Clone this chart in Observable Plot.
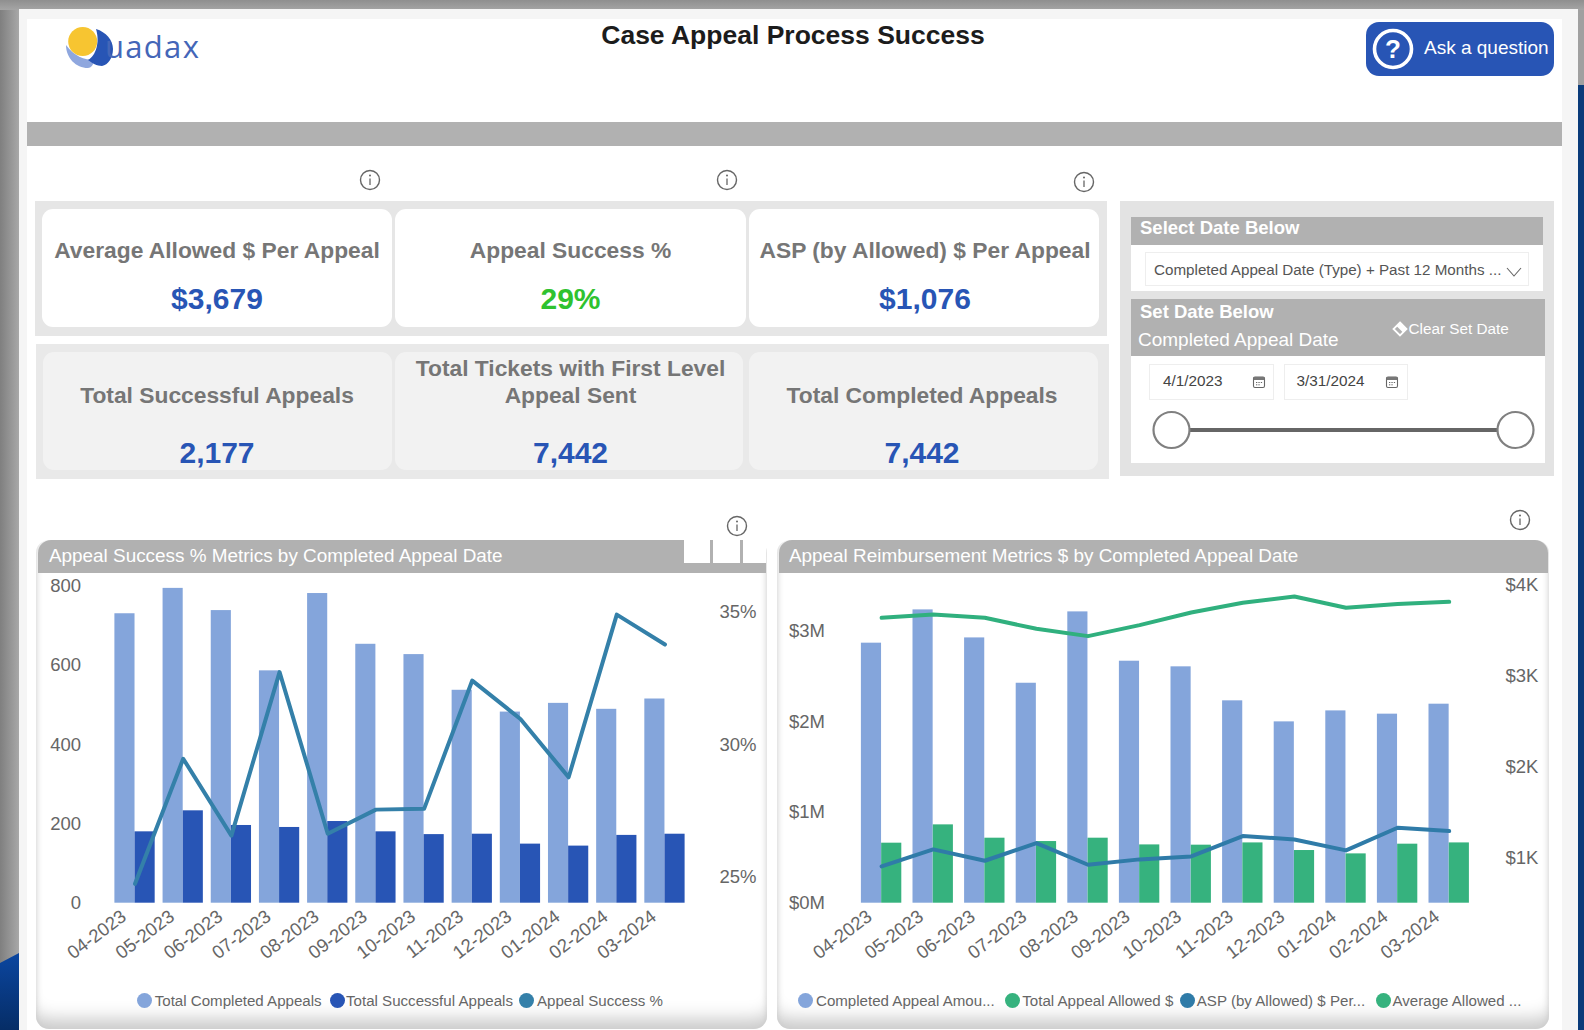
<!DOCTYPE html>
<html>
<head>
<meta charset="utf-8">
<script src="https://cdn.jsdelivr.net/npm/d3@7"></script>
<script src="https://cdn.jsdelivr.net/npm/@observablehq/plot@0.6"></script>
<style>
html,body{margin:0;padding:0;width:1584px;height:1030px;overflow:hidden;background:#999;font-family:"Liberation Sans",Arial,sans-serif}
#page{position:relative;width:1584px;height:1030px;overflow:hidden}
.a{position:absolute;box-sizing:border-box}
.t{position:absolute;white-space:nowrap}
svg{display:block}
.chart svg{position:absolute;left:0;top:0;overflow:visible}
</style>
</head>
<body>
<div id="page"></div>
<script>
// ---------- data ----------
const months = ["04-2023","05-2023","06-2023","07-2023","08-2023","09-2023","10-2023","11-2023","12-2023","01-2024","02-2024","03-2024"];
const completedAppeals = [730,794,738,586,781,653,627,537,482,504,489,515];
const successfulAppeals = [180,233,196,191,206,180,173,174,149,144,171,174];
const successPct = [24.75,29.47,26.57,32.74,26.64,27.55,27.58,32.42,30.97,28.77,34.91,33.78];
const completedAmount = [2868000,3235000,2926000,2426000,3213000,2669000,2607000,2232000,2000000,2121000,2085000,2195000];
const allowedAmount = [662000,864000,717000,680000,717000,643000,640000,665000,581000,544000,651000,665000];
const aspPerAppeal = [905,1092,967,1162,923,982,1015,1239,1202,1081,1331,1294];
const avgAllowed = [3644,3680,3644,3523,3442,3563,3703,3810,3879,3754,3795,3820];
const countTicks = [0,200,400,600,800];
const pctTicks = [25,30,35];
const amountTicks = [0,1000000,2000000,3000000];
const perAppealTicks = [1000,2000,3000,4000];

const rows = months.map((month,i)=>({month,completed:completedAppeals[i],successful:successfulAppeals[i],pct:successPct[i],
  amount:completedAmount[i],allowed:allowedAmount[i],asp:aspPerAppeal[i],avg:avgAllowed[i]}));

// ---------- page helpers ----------
const page = document.getElementById("page");
function box(x0,y0,x1,y1,css=""){const d=document.createElement("div");d.className="a";
  d.style.cssText=`left:${x0}px;top:${y0}px;width:${x1-x0}px;height:${y1-y0}px;${css}`;page.appendChild(d);return d;}
function txt(s,x,cy,size,color,opts={}){const d=document.createElement("div");d.className="t";d.textContent=s;
  const tr=opts.anchor==="middle"?"translateX(-50%)":opts.anchor==="end"?"translateX(-100%)":"";
  d.style.cssText=`left:${x}px;top:${cy-size*0.6}px;line-height:${size*1.2}px;font-size:${size}px;color:${color};font-weight:${opts.bold?700:400};transform:${tr};${opts.css||""}`;
  page.appendChild(d);return d;}
function svgAt(x,y,w,h,inner){const d=document.createElement("div");d.className="a";
  d.style.cssText=`left:${x}px;top:${y}px;width:${w}px;height:${h}px`;
  d.innerHTML=`<svg width="${w}" height="${h}" viewBox="0 0 ${w} ${h}">${inner}</svg>`;page.appendChild(d);}
function info(cx,cy){svgAt(cx-11,cy-11,22,22,`<ellipse cx="11" cy="11" rx="9.5" ry="9.5" fill="#fff" stroke="#666" stroke-width="1.4"/><line x1="11" y1="9.5" x2="11" y2="16" stroke="#666" stroke-width="1.3"/><circle cx="11" cy="6.6" r="1" fill="#666"/>`);}
function cal(cx,cy){svgAt(cx-7,cy-7,14,14,`<rect x="1.5" y="2" width="11" height="10.5" rx="1.5" fill="#fff" stroke="#666" stroke-width="1.1"/><rect x="1.5" y="2" width="11" height="3" fill="#777"/><path d="M4 7.5h1.3M6.4 7.5h1.3M8.8 7.5h1.3M4 9.8h1.3M6.4 9.8h1.3" stroke="#666" stroke-width="1"/>`);}

const GREY="#b1b1b1", BLUE="#2855b5";

// ---------- frame ----------
box(0,0,1584,1030,"background:linear-gradient(90deg,#7f7f7f 0,#a8a8a8 19px,#a0a0a0 100%)");
box(0,0,1584,10,"background:linear-gradient(180deg,#8f8f8f,#a5a5a5)");
box(1577,85,1584,1030,"background:#0a3b7a");
svgAt(0,950,20,80,`<defs><linearGradient id="nv" x1="0" y1="0" x2="0" y2="1"><stop offset="0" stop-color="#0b46a0"/><stop offset="1" stop-color="#062d66"/></linearGradient></defs><path d="M0 13L19 3V80H0Z" fill="url(#nv)"/>`);
box(19,9,1577.5,1030,"background:#f5f5f5");
box(26.5,19,1561.5,1030,"background:#fff");
box(26.5,122,1561.5,145.5,`background:${GREY}`);

// ---------- header ----------
svgAt(60,22,60,50,`<path d="M6 23C6 36 16 46 28 46C31 46 33 43 35 38C24 38 14 34 6 23Z" fill="#8fa7de"/><path d="M36 7C46 10 53 18 53 27C53 36 48 43 42 44C37 44 32 41 28 38C36 34 40 20 36 7Z" fill="#2855b5"/><circle cx="22.7" cy="19.5" r="14.5" fill="#f7c531"/>`);
txt("uadax",105,46.3,31,"#4466b8",{css:"font-family:'Open Sans';letter-spacing:1.3px"});
txt("Case Appeal Process Success",793,35.5,26.5,"#1c1c1c",{bold:true,anchor:"middle"});

box(1365.5,21.5,1553.5,76,`background:${BLUE};border-radius:13px`);
svgAt(1370,26,46,46,`<circle cx="23" cy="23" r="18.5" fill="none" stroke="#fff" stroke-width="3.6"/><text x="23" y="32" text-anchor="middle" font-family="Liberation Sans" font-weight="700" font-size="26" fill="#fff">?</text>`);
txt("Ask a question",1424,48,19,"#fff");

info(370,179.5); info(727,180); info(1084,181.5);

// ---------- KPI cards ----------
box(34.7,201.3,1107.5,336,"background:#e6e6e6");
box(35.7,344.3,1109,479,"background:#e9e9e9");
const card1="background:#fff;border-radius:11px";
const card2="background:#f2f2f2;border-radius:11px";
box(41.8,209,392,327,card1); box(395.4,209,746,327,card1); box(749,209,1099,327,card1);
box(43,352,392,470,card2); box(395.4,352,743,470,card2); box(748.5,352,1097.5,470,card2);
const TC="#767676", KS=22.8;
txt("Average Allowed $ Per Appeal",217,251,KS,TC,{bold:true,anchor:"middle"});
txt("$3,679",217,299,30,BLUE,{bold:true,anchor:"middle"});
txt("Appeal Success %",570.5,251,KS,TC,{bold:true,anchor:"middle"});
txt("29%",570.5,299,30,"#2fc22f",{bold:true,anchor:"middle"});
txt("ASP (by Allowed) $ Per Appeal",925,251,KS,TC,{bold:true,anchor:"middle"});
txt("$1,076",925,299,30,BLUE,{bold:true,anchor:"middle"});
txt("Total Successful Appeals",217,395.5,KS,TC,{bold:true,anchor:"middle"});
txt("2,177",217,453,30,BLUE,{bold:true,anchor:"middle"});
txt("Total Tickets with First Level",570.5,369,KS,TC,{bold:true,anchor:"middle"});
txt("Appeal Sent",570.5,395.5,KS,TC,{bold:true,anchor:"middle"});
txt("7,442",570.5,453,30,BLUE,{bold:true,anchor:"middle"});
txt("Total Completed Appeals",922,395.5,KS,TC,{bold:true,anchor:"middle"});
txt("7,442",922,453,30,BLUE,{bold:true,anchor:"middle"});

// ---------- slicer ----------
box(1120,201.3,1554,476,"background:#e3e3e3");
box(1131,216.7,1543,291,"background:#fff");
box(1131,216.7,1543,245,`background:${GREY}`);
txt("Select Date Below",1140,228,18.5,"#fff",{bold:true});
box(1145,252,1528.5,285.7,"background:#fff;border:1.5px solid #eee");
txt("Completed Appeal Date (Type) + Past 12 Months ...",1154,270,15.2,"#555");
svgAt(1506,266,16,12,`<path d="M1 2L8 10L15 2" fill="none" stroke="#666" stroke-width="1.1"/>`);
box(1131,299.3,1544.5,463,"background:#fff");
box(1131,299.3,1544.5,356,`background:${GREY}`);
txt("Set Date Below",1140,312,18.5,"#fff",{bold:true});
txt("Completed Appeal Date",1138,340,19,"#fff");
svgAt(1392,321,16,16,`<path d="M8 1.5L14.5 8L8 14.5L1.5 8Z" fill="none" stroke="#fff" stroke-width="1.8"/><path d="M8 1.5L14.5 8L11 11.5L4.5 5Z" fill="#fff"/>`);
txt("Clear Set Date",1408.5,329,15.3,"#fff");
box(1148.5,364,1274,400,"border:1.5px solid #eee;background:#fff");
box(1284,364,1407.5,400,"border:1.5px solid #eee;background:#fff");
txt("4/1/2023",1163,381,15.3,"#444");
txt("3/31/2024",1296.5,381,15.3,"#444");
cal(1258.5,382); cal(1392,382);
box(1172,427.5,1515,431.5,"background:#666");
svgAt(1150,408,44,44,`<circle cx="21.5" cy="22" r="18" fill="#fff" stroke="#808080" stroke-width="2.2"/>`);
svgAt(1494,408,44,44,`<circle cx="21.5" cy="22" r="18" fill="#fff" stroke="#808080" stroke-width="2.2"/>`);

// ---------- chart panels ----------
const panelCss="background:#fff;border-radius:13px;box-shadow:inset 0 -22px 18px -12px #c9c9c9, inset 5px 0 6px -5px #ccc, inset -5px 0 6px -5px #ccc";
box(36,540,767,1029,panelCss);
box(777,540,1549,1029,panelCss);
box(37.5,540,765.5,572.5,`background:${GREY};border-radius:13px 13px 0 0`);
box(778.5,540,1547.5,572.5,`background:${GREY};border-radius:13px 13px 0 0`);
box(684,540,709.5,563,"background:#fff"); box(712.5,540,739.5,563,"background:#fff"); box(742.5,540,766,563,"background:#fff");
txt("Appeal Success % Metrics by Completed Appeal Date",49,556,18.9,"#fff");
txt("Appeal Reimbursement Metrics $ by Completed Appeal Date",789,556,18.9,"#fff");
info(737,526); info(1520,520);

// ---------- charts ----------
const AXIS="#666";
function plotStyle(){return {background:"transparent",fontFamily:"'Liberation Sans',Arial,sans-serif",fontSize:"18.5px",color:AXIS};}
function mount(x,y,w,h,...plots){const d=document.createElement("div");d.className="a chart";
  d.style.cssText=`left:${x}px;top:${y}px;width:${w}px;height:${h}px`;plots.forEach(p=>d.appendChild(p));page.appendChild(d);}

const SVG_TOP=572, SVG_H=415, BASE=902.7;
function py(v){return v-SVG_TOP;}

// Left chart
const L={x:37,w:730};
const LX={type:"band",domain:months,range:[114.4-L.x,684.6-L.x],paddingInner:0.164,paddingOuter:0,round:false};
const l1=Plot.plot({width:L.w,height:SVG_H,marginLeft:80.6-L.x,marginRight:0,marginTop:0,marginBottom:SVG_H-py(BASE),style:plotStyle(),
  x:LX,
  y:{domain:[0,800],range:[py(BASE),py(585.5)]},
  marks:[
    Plot.barY(rows,{x:"month",y:"completed",fill:"#84a5db",insetRight:20.15}),
    Plot.barY(rows,{x:"month",y:"successful",fill:BLUE,insetLeft:20.15}),
    Plot.axisY({ticks:countTicks,tickSize:0,tickPadding:0,label:null,anchor:"left"}),
    Plot.axisX({tickSize:0,tickRotate:-37,tickPadding:11,dx:-11,label:null,anchor:"bottom"})
  ]});
const l2=Plot.plot({width:L.w,height:SVG_H,marginLeft:0,marginRight:L.w-(719-L.x),marginTop:0,marginBottom:0,style:plotStyle(),
  x:{...LX,axis:null},
  y:{domain:[25,35],range:[py(876.7),py(611.7)]},
  marks:[
    Plot.lineY(rows,{x:"month",y:"pct",stroke:"#3480a9",strokeWidth:4}),
    Plot.axisY({ticks:pctTicks,tickSize:0,tickPadding:0,label:null,anchor:"right",tickFormat:d=>d+"%"})
  ]});
mount(L.x,SVG_TOP,L.w,SVG_H,l1,l2);

// Right chart
const R={x:778,w:771};
const RX={type:"band",domain:months,range:[860.9-R.x,1468.9-R.x],paddingInner:0.217,paddingOuter:0,round:false};
const r1=Plot.plot({width:R.w,height:SVG_H,marginLeft:824.5-R.x,marginRight:0,marginTop:0,marginBottom:SVG_H-py(BASE),style:plotStyle(),
  x:RX,
  y:{domain:[0,3000000],range:[py(BASE),py(BASE-272)]},
  marks:[
    Plot.barY(rows,{x:"month",y:"amount",fill:"#84a5db",insetRight:20.25}),
    Plot.barY(rows,{x:"month",y:"allowed",fill:"#36b27e",insetLeft:20.25}),
    Plot.axisY({ticks:amountTicks,tickSize:0,tickPadding:0,label:null,anchor:"left",tickFormat:d=>`$${d/1e6}M`}),
    Plot.axisX({tickSize:0,tickRotate:-37,tickPadding:11,dx:-12,label:null,anchor:"bottom"})
  ]});
const r2=Plot.plot({width:R.w,height:SVG_H,marginLeft:0,marginRight:R.w-(1505-R.x),marginTop:0,marginBottom:0,style:plotStyle(),
  x:{...RX,axis:null},
  y:{domain:[0,4000],range:[py(948),py(585)]},
  marks:[
    Plot.lineY(rows,{x:"month",y:"avg",stroke:"#30b07e",strokeWidth:4}),
    Plot.lineY(rows,{x:"month",y:"asp",stroke:"#2f7ba8",strokeWidth:4}),
    Plot.axisY({ticks:perAppealTicks,tickSize:0,tickPadding:0,label:null,anchor:"right",tickFormat:d=>`$${d/1000}K`})
  ]});
mount(R.x,SVG_TOP,R.w,SVG_H,r1,r2);

// ---------- legends ----------
function legend(items,y){items.forEach(([name,color,cx,tx])=>{
  box(cx-7.5,y-7.5,cx+7.5,y+7.5,`background:${color};border-radius:50%`);
  txt(name,tx,y,15.1,"#666");});}
legend([["Total Completed Appeals","#84a5db",144.6,154.7],["Total Successful Appeals",BLUE,337,346],["Appeal Success %","#3480a9",526.4,537]],1000.7);
legend([["Completed Appeal Amou...","#84a5db",805,816],["Total Appeal Allowed $","#36b27e",1012,1022.3],["ASP (by Allowed) $ Per...","#2f7ba8",1187.4,1196.8],["Average Allowed ...","#36b27e",1383,1392.5]],1000.7);
</script>
</body>
</html>
